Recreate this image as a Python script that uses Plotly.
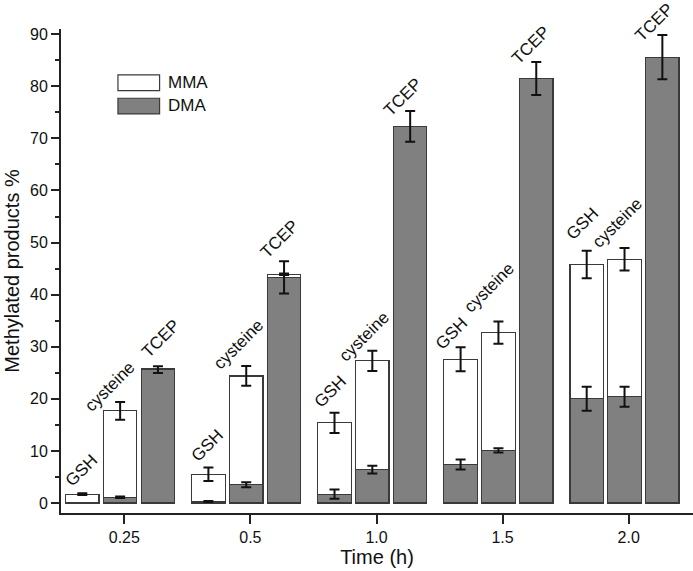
import plotly.graph_objects as go

# ---------------- data ----------------
time_labels = ["0.25", "0.5", "1.0", "1.5", "2.0"]
reducers = ["GSH", "cysteine", "TCEP"]

# DMA (bottom, gray) values %
dma_gsh = [0.0, 0.3, 1.7, 7.4, 20.0]
dma_cys = [1.1, 3.5, 6.4, 10.1, 20.4]
dma_tcep = [25.6, 43.3, 72.3, 81.5, 85.6]

# MMA (top, white) values %
mma_gsh = [1.7, 5.2, 13.7, 20.2, 25.8]
mma_cys = [16.6, 20.9, 20.9, 22.6, 26.4]
mma_tcep = [0.2, 0.6, 0.0, 0.0, 0.0]

# error (SD) on DMA
dma_err_gsh = [0.0, 0.1, 0.9, 0.95, 2.3]
dma_err_cys = [0.15, 0.5, 0.75, 0.4, 1.9]
dma_err_tcep = [0.65, 3.1, 2.95, 3.15, 4.25]

# error (SD) on total (MMA + DMA)
tot_err_gsh = [0.15, 1.3, 1.95, 2.3, 2.65]
tot_err_cys = [1.7, 1.9, 1.95, 2.15, 2.15]
tot_err_tcep = [0.0, 0.15, 0.0, 0.0, 0.0]

# ---------------- layout helpers ----------------
offsets = {"GSH": -0.333, "cysteine": -0.033, "TCEP": 0.267}
bar_w = 0.265
X_RANGE = [-0.502, 4.51]
Y_RANGE = [-1.92, 91]
# label centre shifts in px (dx, dy) relative to top of error bar
label_shift = {
    "GSH": [(-1, -23), (-1, -22), (-4, -21), (-9, -14), (-4, -27)],
    "cysteine": [(-10, -15), (-8, -22), (-8, -14), (-9, -34), (-8, -25)],
    "TCEP": [(3, -28), (-5, -22), (-8, -14), (-6, -17), (-8, -12)],
}

series = {
    "GSH": (dma_gsh, mma_gsh, dma_err_gsh, tot_err_gsh),
    "cysteine": (dma_cys, mma_cys, dma_err_cys, tot_err_cys),
    "TCEP": (dma_tcep, mma_tcep, dma_err_tcep, tot_err_tcep),
}

xs, dmas, mmas = [], [], []
ex_d, ey_d, ee_d = [], [], []
ex_t, ey_t, ee_t = [], [], []
label_specs = []
for r in reducers:
    d, m, de, te = series[r]
    for i in range(len(time_labels)):
        x = i + offsets[r]
        xs.append(x)
        dmas.append(d[i])
        mmas.append(m[i])
        tot = d[i] + m[i]
        if de[i] > 0:
            ex_d.append(x); ey_d.append(d[i]); ee_d.append(de[i])
        if te[i] > 0:
            ex_t.append(x); ey_t.append(tot); ee_t.append(te[i])
        top = max(tot + te[i], d[i] + de[i])
        dx, dy = label_shift[r][i]
        label_specs.append((r, x, top, dx, -dy))

edge = "#3a3a3a"
fig = go.Figure()
fig.add_trace(go.Bar(
    x=xs, y=dmas, width=bar_w, name="DMA",
    marker=dict(color="#808080", line=dict(color=edge, width=1.2)),
    showlegend=False,
))
fig.add_trace(go.Bar(
    x=xs, y=mmas, width=bar_w, name="MMA",
    marker=dict(color="#ffffff", line=dict(color=edge, width=1.2)),
    showlegend=False,
))
errstyle = dict(type="data", visible=True, color="#111111", thickness=2, width=5)
fig.add_trace(go.Scatter(
    x=ex_d, y=ey_d, mode="markers", marker=dict(size=1, color="rgba(0,0,0,0)"),
    error_y=dict(array=ee_d, **errstyle), showlegend=False, hoverinfo="skip",
))
fig.add_trace(go.Scatter(
    x=ex_t, y=ey_t, mode="markers", marker=dict(size=1, color="rgba(0,0,0,0)"),
    error_y=dict(array=ee_t, **errstyle), showlegend=False, hoverinfo="skip",
))

# reducer labels above bars
for (txt, lx, ly, sx, sy) in label_specs:
    fig.add_annotation(
        x=lx, y=ly, xref="x", yref="y", text=txt, showarrow=False,
        textangle=-45, xanchor="center", yanchor="middle", xshift=sx, yshift=sy,
        font=dict(size=17, color="#111111"),
    )

# manual legend (paper coords)
shapes = [
    dict(type="rect", xref="paper", yref="paper", x0=0.0901, x1=0.156, y0=0.8726, y1=0.9051,
         fillcolor="#ffffff", line=dict(color=edge, width=1.2)),
    dict(type="rect", xref="paper", yref="paper", x0=0.0901, x1=0.156, y0=0.8245, y1=0.8569,
         fillcolor="#808080", line=dict(color=edge, width=1.2)),
]
fig.add_annotation(x=0.166, y=0.889, xref="paper", yref="paper", text="MMA", showarrow=False,
                   xanchor="left", yanchor="middle", font=dict(size=17, color="#111111"))
fig.add_annotation(x=0.166, y=0.841, xref="paper", yref="paper", text="DMA", showarrow=False,
                   xanchor="left", yanchor="middle", font=dict(size=17, color="#111111"))

fig.update_layout(
    width=693, height=571,
    margin=dict(l=61, r=0, t=29, b=58, autoexpand=False),
    barmode="stack",
    plot_bgcolor="white", paper_bgcolor="white",
    font=dict(family="Liberation Sans, Arial, sans-serif", color="#111111"),
    shapes=shapes,
    showlegend=False,
)

fig.update_xaxes(
    range=X_RANGE, tickvals=list(range(len(time_labels))), ticktext=time_labels,
    showline=True, linecolor="#222222", linewidth=2, mirror=False,
    ticks="outside", ticklen=9, tickwidth=1.5, tickcolor="#222222",
    showgrid=False, zeroline=False, tickfont=dict(size=16),
    title=dict(text="Time (h)", font=dict(size=20), standoff=3),
)
fig.update_yaxes(
    range=Y_RANGE, tickvals=[0, 10, 20, 30, 40, 50, 60, 70, 80, 90],
    showline=True, linecolor="#222222", linewidth=2,
    ticks="outside", ticklen=8, tickwidth=1.5, tickcolor="#222222",
    minor=dict(tickvals=[5, 15, 25, 35, 45, 55, 65, 75, 85], ticks="outside", ticklen=4,
               tickwidth=1.5, tickcolor="#222222", showgrid=False),
    showgrid=False, zeroline=False, tickfont=dict(size=16),
    title=dict(text="Methylated products %", font=dict(size=20), standoff=5),
)

post = "document.body.style.margin='0';document.body.style.overflow='hidden';"
fig.write_html("out.html", config={"displayModeBar": False}, post_script=post)
